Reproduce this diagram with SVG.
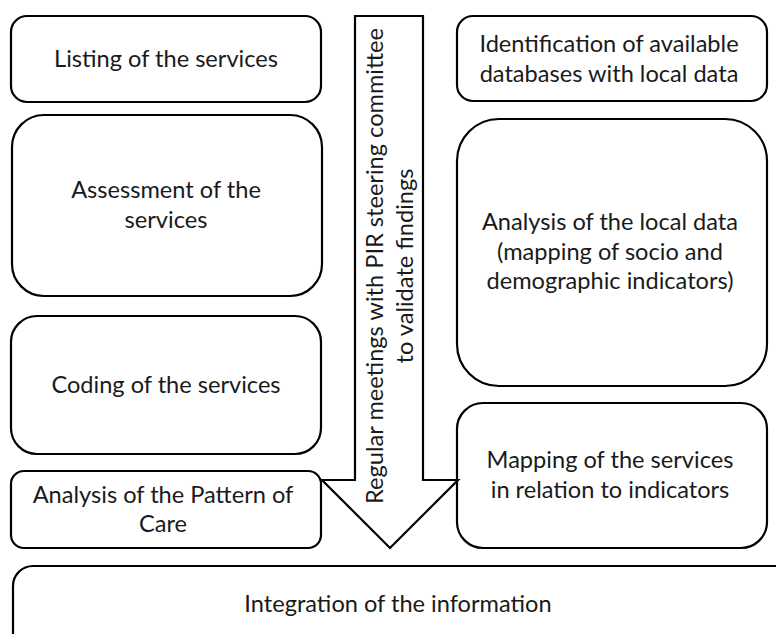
<svg xmlns="http://www.w3.org/2000/svg" width="776" height="634" viewBox="0 0 776 634">
<style>
.box{fill:#fff;stroke:#000;stroke-width:2.2}
.t{font-family:Lato,"Open Sans","Liberation Sans",sans-serif;font-size:23.6px;fill:#1a1a1a;text-anchor:middle}
</style>
<rect width="776" height="634" fill="#fff"/>
<g id="listing"><rect class="box" x="11" y="16" width="310" height="86" rx="16"/><text class="t" x="166" y="67">Listing of the services</text></g>
<g id="assessment"><rect class="box" x="12" y="115" width="310" height="181" rx="32"/><text class="t" x="166" y="198">Assessment of the</text><text class="t" x="166" y="228">services</text></g>
<g id="coding"><rect class="box" x="11" y="316" width="310" height="138" rx="26"/><text class="t" x="166" y="393">Coding of the services</text></g>
<g id="pattern"><rect class="box" x="11" y="471" width="310" height="77" rx="13"/><text class="t" x="163" y="503">Analysis of the Pattern of</text><text class="t" x="163" y="532">Care</text></g>
<g id="identification"><rect class="box" x="457" y="16" width="310" height="85" rx="16"/><text class="t" x="609" y="52">Identification of available</text><text class="t" x="609" y="82">databases with local data</text></g>
<g id="analysis-local"><rect class="box" x="457" y="119" width="310" height="267" rx="42"/><text class="t" x="610" y="230">Analysis of the local data</text><text class="t" x="610" y="260">(mapping of socio and</text><text class="t" x="610" y="289">demographic indicators)</text></g>
<g id="mapping"><rect class="box" x="457" y="403" width="310" height="145" rx="26"/><text class="t" x="610" y="468">Mapping of the services</text><text class="t" x="610" y="498">in relation to indicators</text></g>
<g id="integration"><rect class="box" x="13" y="566" width="820" height="120" rx="20"/><text class="t" x="398" y="612">Integration of the information</text></g>
<g id="connectors">
<path class="box" d="M355,16 L423,16 L423,480 L458,480 L390,548 L322,480 L355,480 Z"/>
<text class="t" transform="translate(383,266) rotate(-90)">Regular meetings with PIR steering committee</text>
<text class="t" transform="translate(413,266) rotate(-90)">to validate findings</text>
</g>
</svg>
